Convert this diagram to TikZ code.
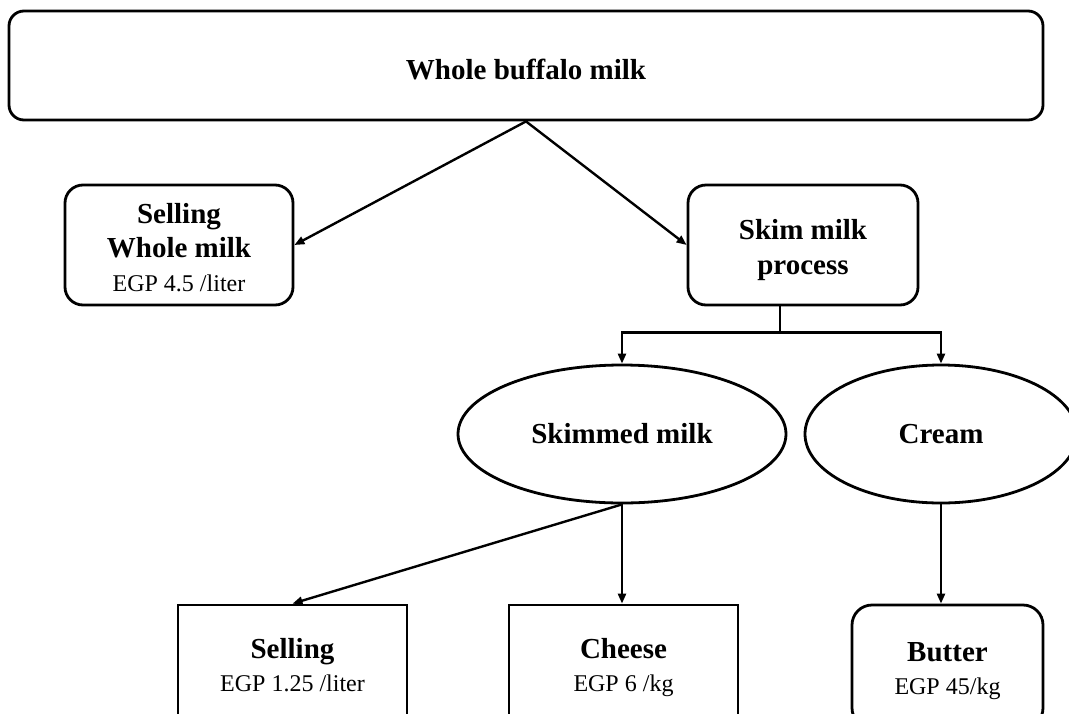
\documentclass[tikz,border=0pt]{standalone}
\usepackage{fontspec}
\setmainfont{Liberation Serif}
\usetikzlibrary{shapes.geometric,arrows.meta}
\newcommand{\pushdown}[1]{\rule{0pt}{#1}}
\begin{document}
\begin{tikzpicture}[x=1pt,y=-1pt,
  box/.style={draw,line width=2.8pt,rounded corners=18pt,inner sep=0pt,align=center,font=\fontsize{29}{34}\selectfont},
  sqbox/.style={draw,line width=2.8pt,inner sep=0pt,align=center,font=\fontsize{29}{33}\selectfont},
  oval/.style={draw,ellipse,line width=2.8pt,inner sep=0pt,align=center,font=\fontsize{29}{35}\selectfont\bfseries},
  con/.style={line width=2.4pt},
  arr/.style={con,-{Triangle[length=10pt,width=8pt]}}]
\useasboundingbox (0,0) rectangle (1069,713);

\node[box,rounded corners=15pt,minimum width=1034pt,minimum height=109pt,font=\fontsize{29}{35}\selectfont\bfseries] (top) at (526,65.5) {\pushdown{28pt}Whole buffalo milk};

\node[box,minimum width=228pt,minimum height=120pt] (sellw) at (179,245)
  {\pushdown{31pt}\bfseries Selling\\ \bfseries Whole milk\\ \fontsize{24}{34}\selectfont EGP 4.5 /liter\vphantom{g}};
\node[box,minimum width=230pt,minimum height=120pt,font=\fontsize{29}{35}\selectfont\bfseries] (skim) at (803,245)
  {\pushdown{31pt}Skim milk\\ process};

\node[oval,minimum width=328pt,minimum height=138pt] (skimmed) at (622,434) {Skimmed milk};
\node[oval,minimum width=272pt,minimum height=138pt] (cream) at (941,434) {Cream};

\node[sqbox,minimum width=229pt,minimum height=118pt] (sellb) at (292.5,664)
  {\pushdown{28pt}\bfseries Selling\\ \fontsize{24}{32}\selectfont EGP 1.25 /liter\vphantom{g}};
\node[sqbox,minimum width=229pt,minimum height=118pt] (cheese) at (623.5,664)
  {\pushdown{28pt}\bfseries Cheese\vphantom{g}\\ \fontsize{24}{32}\selectfont EGP 6 /kg};
\node[sqbox,rounded corners=20pt,minimum width=191pt,minimum height=123pt] (butter) at (947.5,666.5)
  {\pushdown{28pt}\bfseries Butter\vphantom{g}\\ \fontsize{24}{32}\selectfont EGP 45/kg};

\draw[arr] (top.south) -- (sellw.east);
\draw[arr] (top.south) -- (skim.west);

\draw[con] ([xshift=-23pt]skim.south) -- ++(0,26) coordinate (j);
\draw[arr] (j) -| (skimmed.north);
\draw[arr] (j) -| (cream.north);

\draw[arr] (skimmed.south) -- (sellb.north);
\draw[arr] (skimmed.south) -- (skimmed.south |- cheese.north);
\draw[arr] (cream.south) -- (cream.south |- butter.north);
\end{tikzpicture}
\end{document}
